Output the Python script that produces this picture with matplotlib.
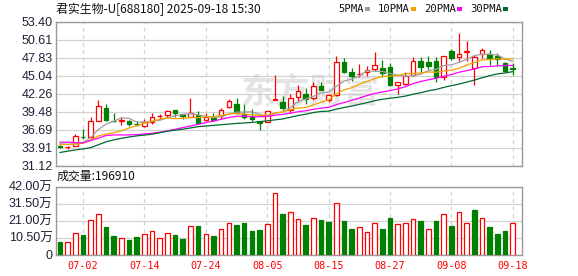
import numpy as np
import matplotlib.pyplot as plt
from matplotlib.patches import Rectangle

# ---- data ----
dates = ["06-27", "06-30", "07-01", "07-02", "07-03", "07-04", "07-07", "07-08", "07-09", "07-10",
         "07-11", "07-14", "07-15", "07-16", "07-17", "07-18", "07-21", "07-22", "07-23", "07-24",
         "07-25", "07-28", "07-29", "07-30", "07-31", "08-01", "08-04", "08-05", "08-06", "08-07",
         "08-08", "08-11", "08-12", "08-13", "08-14", "08-15", "08-18", "08-19", "08-20", "08-21",
         "08-22", "08-25", "08-26", "08-27", "08-28", "08-29", "09-01", "09-02", "09-03", "09-04",
         "09-05", "09-08", "09-09", "09-10", "09-11", "09-12", "09-15", "09-16", "09-17", "09-18"]

open_ = [34.10, 33.95, 34.12, 35.60, 35.56, 38.05, 40.00, 38.05, 38.05, 38.04,
         37.58, 37.22, 37.93, 38.75, 38.90, 39.69, 39.10, 38.65, 38.97, 38.15,
         38.55, 38.81, 40.26, 40.67, 39.10, 38.70, 38.04, 37.93, 41.35, 41.02,
         39.74, 41.80, 42.22, 41.60, 43.50, 41.24, 42.11, 47.12, 45.57, 45.25,
         45.66, 46.13, 46.24, 46.39, 43.60, 43.81, 45.15, 47.32, 47.16, 47.32,
         44.80, 48.91, 47.89, 48.70, 46.19, 48.45, 48.45, 48.04, 47.00, 46.20]
high = [34.30, 34.20, 36.03, 36.80, 38.70, 41.30, 40.67, 39.20, 38.60, 38.20,
        38.05, 38.40, 39.30, 39.10, 39.75, 39.80, 39.10, 41.64, 39.50, 39.20,
        39.30, 40.10, 41.50, 41.60, 40.70, 39.90, 38.04, 39.65, 45.15, 41.85,
        42.17, 43.60, 43.10, 44.12, 44.10, 42.20, 48.10, 47.74, 46.19, 46.85,
        46.50, 48.71, 47.50, 47.00, 44.10, 45.66, 47.98, 48.00, 48.09, 47.98,
        48.15, 49.18, 51.60, 50.41, 48.25, 49.38, 48.97, 48.56, 47.11, 47.00]
low = [33.90, 33.70, 34.10, 35.30, 35.40, 38.00, 37.95, 37.90, 37.40, 37.30,
       37.30, 37.10, 37.60, 38.30, 38.70, 38.60, 38.30, 38.60, 37.70, 37.95,
       38.15, 38.40, 40.00, 39.10, 38.30, 37.95, 36.60, 37.85, 41.30, 39.80,
       39.20, 40.93, 40.70, 41.30, 42.88, 40.90, 41.90, 45.40, 44.27, 44.90,
       45.00, 45.70, 44.90, 43.50, 42.17, 43.60, 45.05, 45.40, 46.08, 44.00,
       44.33, 47.42, 47.12, 47.37, 43.60, 47.78, 46.70, 46.60, 45.67, 45.15]
close = [33.98, 34.02, 35.67, 35.50, 38.00, 40.36, 38.15, 37.95, 38.15, 37.60,
         37.50, 37.93, 38.60, 38.85, 39.60, 39.32, 38.80, 39.30, 37.78, 38.65,
         38.15, 39.74, 41.13, 39.32, 38.70, 38.40, 37.73, 39.58, 41.45, 40.00,
         41.55, 42.63, 41.49, 43.50, 42.88, 42.00, 47.12, 45.57, 45.04, 45.35,
         45.97, 46.65, 45.42, 43.56, 44.02, 45.04, 47.27, 46.39, 46.55, 44.85,
         48.04, 47.74, 48.35, 48.80, 47.89, 49.02, 47.74, 47.63, 45.82, 46.10]
volume = [7.5, 7.5, 13.4, 12.2, 21.1, 24.8, 17.0, 11.6, 10.1, 9.1,
          10.9, 12.6, 14.6, 10.1, 13.4, 12.2, 9.7, 17.4, 17.6, 12.6,
          11.6, 15.8, 19.5, 18.0, 19.3, 14.4, 15.0, 18.7, 38.3, 25.0,
          26.6, 22.3, 18.0, 22.9, 21.3, 20.1, 32.1, 20.7, 15.8, 16.8,
          13.9, 19.5, 16.0, 22.5, 18.9, 19.5, 22.3, 20.7, 15.8, 20.7,
          25.0, 17.6, 26.2, 19.5, 27.4, 22.9, 17.0, 12.8, 14.6, 19.691]  # 万股

ma5 = [34.50, 34.40, 34.50, 34.70, 35.44, 36.71, 37.54, 37.99, 38.52, 38.43,
       37.87, 37.85, 37.98, 38.12, 38.54, 38.86, 39.03, 39.17, 38.96, 38.77,
       38.54, 38.72, 39.09, 39.40, 39.41, 39.46, 39.06, 38.75, 39.17, 39.43,
       40.06, 41.04, 41.42, 41.83, 42.41, 42.50, 43.40, 44.21, 44.52, 45.02,
       45.81, 45.72, 45.69, 45.39, 45.12, 44.94, 45.06, 45.26, 45.85, 46.02,
       46.62, 46.71, 47.11, 47.56, 48.16, 48.36, 48.36, 48.22, 47.62, 47.26]
ma10 = [34.40, 34.40, 34.45, 34.60, 35.10, 35.70, 36.00, 36.20, 36.50, 36.94,
        37.28, 37.69, 37.99, 38.32, 38.48, 38.38, 38.44, 38.58, 38.54, 38.65,
        38.70, 38.88, 39.13, 39.18, 39.09, 39.00, 38.89, 38.92, 39.29, 39.42,
        39.76, 40.05, 40.09, 40.50, 40.92, 41.28, 42.22, 42.82, 43.18, 43.71,
        44.16, 44.56, 44.95, 44.96, 45.07, 45.37, 45.39, 45.47, 45.62, 45.57,
        45.78, 45.89, 46.18, 46.71, 47.09, 47.49, 47.54, 47.66, 47.59, 47.71]
ma20 = [34.74, 34.74, 34.69, 34.63, 35.00, 35.36, 35.77, 35.87, 35.87, 35.87,
        35.92, 36.03, 36.13, 36.30, 36.50, 36.75, 37.00, 37.25, 37.50, 37.79,
        38.00, 38.29, 38.56, 38.75, 38.79, 38.69, 38.67, 38.75, 38.91, 39.04,
        39.23, 39.46, 39.61, 39.84, 40.01, 40.14, 40.56, 40.87, 41.23, 41.57,
        41.96, 42.30, 42.52, 42.73, 43.00, 43.33, 43.80, 44.15, 44.40, 44.64,
        44.97, 45.22, 45.57, 45.83, 46.08, 46.43, 46.46, 46.57, 46.61, 46.64]
ma30 = [33.15, 33.35, 33.55, 33.70, 33.90, 34.35, 34.80, 35.10, 35.35, 35.55,
        35.72, 35.85, 35.98, 36.20, 36.45, 36.60, 36.75, 36.95, 37.15, 37.25,
        37.35, 37.45, 37.55, 37.65, 37.72, 37.80, 37.90, 38.05, 38.20, 38.34,
        38.59, 38.87, 39.07, 39.33, 39.50, 39.55, 39.85, 40.11, 40.33, 40.60,
        40.87, 41.16, 41.39, 41.55, 41.69, 41.88, 42.17, 42.40, 42.70, 42.90,
        43.23, 43.50, 43.74, 44.05, 44.36, 44.72, 45.05, 45.32, 45.46, 45.67]

tick_dates = ["07-02", "07-14", "07-24", "08-05", "08-15", "08-27", "09-08", "09-18"]
price_labels = ["31.12", "33.91", "36.69", "39.48", "42.26", "45.04", "47.83", "50.61", "53.40"]
vol_ticks = [0, 10.5, 21, 31.5, 42]
vol_labels = ["0", "10.50万", "21.00万", "31.50万", "42.00万"]
ma_names = ["5PMA", "10PMA", "20PMA", "30PMA"]

title = "君实生物-U[688180] 2025-09-18 15:30"
vol_title = "成交量:196910"

# ---- styling ----
RED, GREEN = "#ff0000", "#008000"
ma_colors = ["#a0a0a0", "#f5a000", "#ff00ff", "#006a30"]
GRID, BORDER = "#d2d2d2", "#9a9a9a"
CJK = ["Noto Sans CJK SC", "DejaVu Sans"]
NUM = ["Liberation Sans", "Noto Sans CJK SC"]

W, H = 578, 276
fig = plt.figure(figsize=(W / 100, H / 100), dpi=100)


def fx(px):
    return px / W


def fy(py):
    return 1 - py / H


ax = fig.add_axes([fx(56), fy(165.6), fx(522) - fx(56), fy(21.7) - fy(165.6)])
axv = fig.add_axes([fx(56), fy(254.5), fx(522) - fx(56), fy(186.7) - fy(254.5)])

x = np.arange(len(dates))
o, h, l, c = map(np.array, (open_, high, low, close))
up = c >= o
vol_up = np.r_[False, c[1:] >= c[:-1]]
tick_idx = [dates.index(d) for d in tick_dates]

# candles
ax.vlines(x, l, h, colors=np.where(up, RED, GREEN), lw=0.9, zorder=2)
body_lo = np.minimum(o, c)
body_h = np.maximum(np.abs(c - o), 0.02)
ax.bar(x[up], body_h[up], bottom=body_lo[up], width=0.6, facecolor="white",
       edgecolor=RED, lw=0.9, zorder=3)
ax.bar(x[~up], body_h[~up], bottom=body_lo[~up], width=0.6, facecolor=GREEN,
       edgecolor=GREEN, lw=0.9, zorder=3)

for ma, col in zip([ma5, ma10, ma20, ma30], ma_colors):
    ax.plot(x, ma, color=col, lw=0.9, zorder=4)

# faint watermark
ax.text(0.545, 0.51, "东方财富", transform=ax.transAxes, fontsize=25, color="#e4e4e4",
        ha="center", va="center", family=CJK, fontweight="bold", zorder=0)

# volume
v = np.array(volume)
axv.bar(x[vol_up], v[vol_up], width=0.6, facecolor="white", edgecolor=RED, lw=0.9, zorder=3)
axv.bar(x[~vol_up], v[~vol_up], width=0.6, facecolor=GREEN, edgecolor=GREEN, lw=0.9, zorder=3)

# axes cosmetics
for a in (ax, axv):
    a.set_xlim(-0.52, 60.2)
    a.set_xticks(tick_idx)
    a.grid(True, axis="x", color=GRID, ls=(0, (3, 3)), lw=0.9, zorder=1)
    a.grid(True, axis="y", color=GRID, ls="-", lw=0.9, zorder=1)
    a.set_axisbelow(True)
    for s in a.spines.values():
        s.set_color(BORDER)
        s.set_linewidth(1.0)
    a.tick_params(length=0, pad=2.4, labelsize=9, labelcolor="#202038")

ax.set_ylim(float(price_labels[0]), float(price_labels[-1]))
ax.set_yticks([float(p) for p in price_labels])
ax.set_yticklabels(price_labels, family=NUM)
ax.set_xticklabels([])

axv.set_ylim(0, 42)
axv.set_yticks(vol_ticks)
axv.set_yticklabels(vol_labels, family=NUM)
axv.set_xticklabels(tick_dates, family="DejaVu Sans Mono", fontsize=7.3, color=RED)
axv.tick_params(axis="x", pad=5, labelcolor=RED)

# header texts
fig.text(fx(56.5), fy(9), title, fontsize=8.6, va="center", ha="left", family=CJK, color="#111")
fig.text(fx(57), fy(176.5), vol_title, fontsize=8.6, va="center", ha="left", family=CJK, color="#111")

# MA legend: label followed by a small colour block
lx = 338
for name, col in zip(ma_names, ma_colors):
    fig.text(fx(lx), fy(9), name, fontsize=7.6, va="center", ha="left",
             family="DejaVu Sans Mono", color="#111")
    w = len(name) * 6
    fig.add_artist(Rectangle((fx(lx + w + 3), fy(10.5)), 5 / W, 3 / H,
                             transform=fig.transFigure, color=col, lw=0))
    lx += w + 16

fig.savefig("out.png", dpi=100)
